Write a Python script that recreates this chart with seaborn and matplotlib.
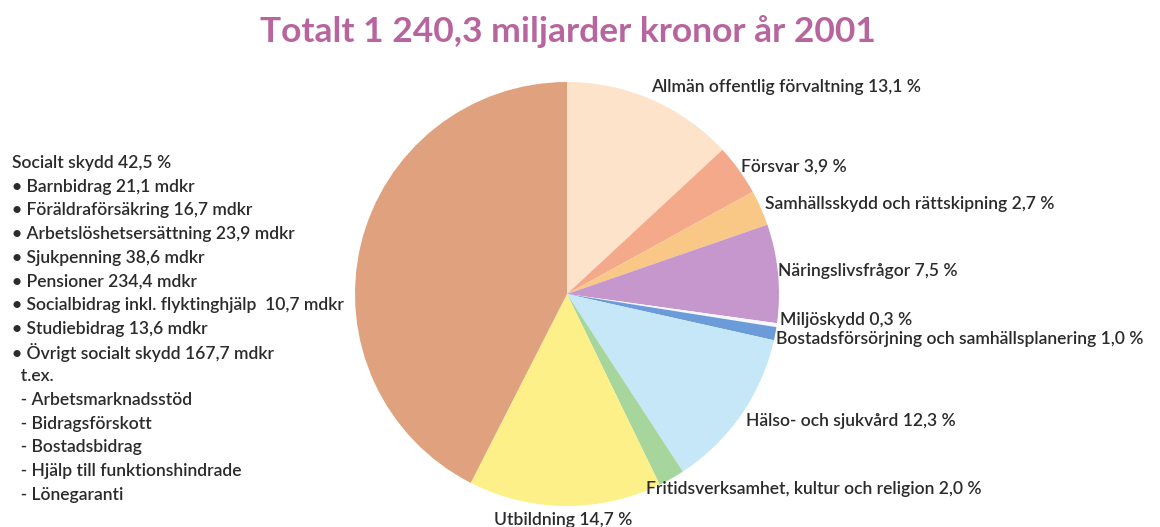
import matplotlib
matplotlib.use("Agg")
import matplotlib.pyplot as plt
import seaborn as sns

# Data (percent of total spending 2001)
categories = [
    "Allmän offentlig förvaltning", "Försvar", "Samhällsskydd och rättskipning",
    "Näringslivsfrågor", "Miljöskydd", "Bostadsförsörjning och samhällsplanering",
    "Hälso- och sjukvård", "Fritidsverksamhet, kultur och religion",
    "Utbildning", "Socialt skydd",
]
shares = [13.1, 3.9, 2.7, 7.5, 0.3, 1.0, 12.3, 2.0, 14.7, 42.5]
colors = ["#fde3c9", "#f4a98b", "#f9c887", "#c597cc", "#f4f8fc", "#6b9bd9",
          "#c6e7f8", "#a6d69b", "#fdf088", "#e0a17f"]

social_lines = [
    "Socialt skydd 42,5 %",
    "• Barnbidrag 21,1 mdkr",
    "• Föräldraförsäkring 16,7 mdkr",
    "• Arbetslöshetsersättning 23,9 mdkr",
    "• Sjukpenning 38,6 mdkr",
    "• Pensioner 234,4 mdkr",
    "• Socialbidrag inkl. flyktinghjälp  10,7 mdkr",
    "• Studiebidrag 13,6 mdkr",
    "• Övrigt socialt skydd 167,7 mdkr",
    "  t.ex.",
    "  - Arbetsmarknadsstöd",
    "  - Bidragsförskott",
    "  - Bostadsbidrag",
    "  - Hjälp till funktionshindrade",
    "  - Lönegaranti",
]

def fmt(v):
    return f"{v:.1f}".replace(".", ",") + " %"

sns.set_theme(style="white")
plt.rcParams["font.family"] = ["Lato", "DejaVu Sans"]

W, H = 1160, 527
fig = plt.figure(figsize=(W / 100, H / 100), dpi=100)
fig.patch.set_facecolor("white")

# pie axes: centre approx (567, 294) px, radius 212 px
cx, cy, r = 567, 294, 212
ax = fig.add_axes([(cx - r) / W, (H - cy - r) / H, 2 * r / W, 2 * r / H])
ax.pie(shares, colors=colors, startangle=90, counterclock=False,
       wedgeprops=dict(linewidth=0))
ax.set_xlim(-1, 1)
ax.set_ylim(-1, 1)
ax.set_aspect("equal")
ax.axis("off")

fig.text(568 / W, 1 - 32 / H, "Totalt 1 240,3 miljarder kronor år 2001",
         ha="center", va="center", fontsize=25.5, fontweight="bold", color="#b8659f")

txt_color = "#2b2b2b"
fs = 12.6
label_pos = [(651, 87), (741, 167), (765, 204), (778, 271), (780, 320),
             (776, 339), (746, 421), (646, 489), (494, 520)]
for (px, py), name, v in zip(label_pos, categories[:9], shares[:9]):
    fig.text(px / W, 1 - py / H, f"{name} {fmt(v)}", ha="left", va="center",
             fontsize=fs, fontweight="semibold", color=txt_color)

y0, dy = 163, 23.7
for i, line in enumerate(social_lines):
    fig.text(12 / W, 1 - (y0 + i * dy) / H, line, ha="left", va="center",
             fontsize=fs, fontweight="semibold", color=txt_color)

fig.savefig("out.png", dpi=100, facecolor="white")
